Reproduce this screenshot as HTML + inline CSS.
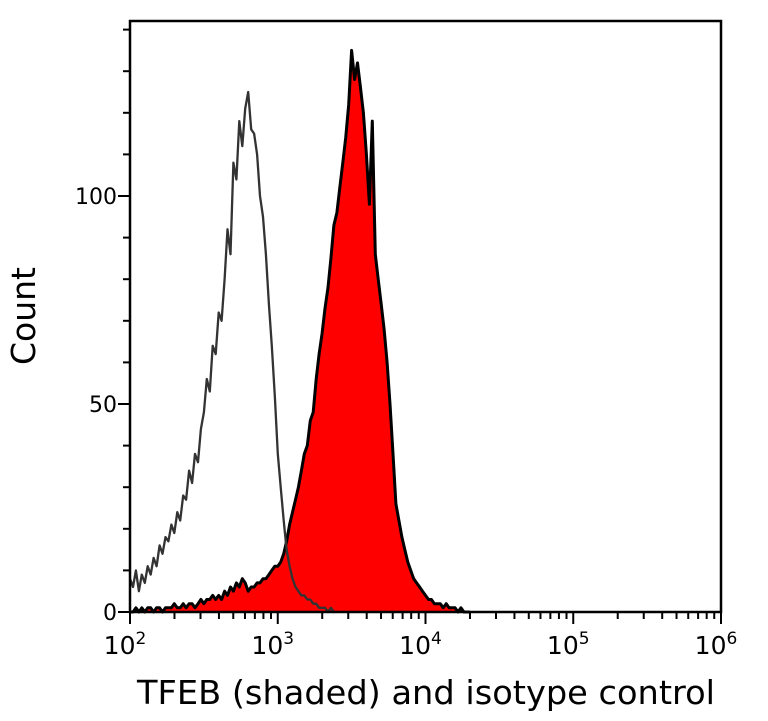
<!DOCTYPE html>
<html><head><meta charset="utf-8"><style>
html,body{margin:0;padding:0;background:#fff;}
svg{display:block;font-family:"DejaVu Sans","Liberation Sans",sans-serif;}
</style></head><body>
<svg id="chart" width="768" height="721" viewBox="0 0 768 721" xmlns="http://www.w3.org/2000/svg">
<g id="marks"></g>
<g id="axes"></g>
<text x="0" y="0" transform="translate(35,316) rotate(-90)" text-anchor="middle" font-size="33" fill="#000">Count</text>
<text x="426" y="704" text-anchor="middle" font-size="33" textLength="578" lengthAdjust="spacingAndGlyphs" fill="#000">TFEB (shaded) and isotype control</text>
</svg>
<script>
const binStart = 2.0;
const binStep = 0.02;
const isotypeCounts = [8,6,10,5,9,7,11,9,13,11,16,14,18,17,21,19,24,22,28,27,34,31,38,36,44,48,56,53,64,62,72,70,80,92,86,108,104,118,112,121,125,116,115,110,100,95,86,74,64,52,38,30,22,15,11,8,6,5,4,4,3,3,2,2,1,1,1,0,1,0,0];
const tfebCounts = [0,0,1,0,1,0,1,1,0,1,1,0,1,1,1,2,1,1,2,1,2,2,1,2,3,2,3,3,4,3,
4,3,5,4,6,5,7,6,8,7,
5,6,6,7,7,8,8,9,10,11,
11,12,14,17,21,24,27,30,34,38,
40,46,48,56,62,67,73,78,85,93,
96,102,108,114,122,135,128,132,126,120,
110,98,118,86,80,74,68,60,50,38,
26,22,18,15,12,10,8,7,6,5,
4,3,3,2,2,2,1,2,1,1,
1,0,1,0,0,0];
const yTicks = [0,50,100];
const yMinorTicks = [10,20,30,40,60,70,80,90,110,120,130,140];
const xDecades = [2,3,4,5,6];

const L=130,R=721,T=21,B=612;
const xs = lg => L + (lg-2)/(6-2)*(R-L);
const ys = c => B - c*4.16;
const NS="http://www.w3.org/2000/svg";
function mk(tag, attrs, parent){const e=document.createElementNS(NS,tag);for(const k in attrs)e.setAttribute(k,attrs[k]);parent.appendChild(e);return e;}
const marks=document.getElementById('marks'), axes=document.getElementById('axes');

function linePts(arr){return arr.map((c,i)=>xs(binStart+i*binStep).toFixed(1)+','+ys(c).toFixed(1));}
let p = linePts(tfebCounts);
const first = xs(binStart), last = xs(binStart+(tfebCounts.length-1)*binStep);
const fill = mk('polygon',{points:first+','+B+' '+p.join(' ')+' '+last+','+B,fill:'#ff0000',stroke:'none'},marks);


const tl = mk('polyline',{points:p.join(' '),fill:'none',stroke:'#000','stroke-width':3,'stroke-linejoin':'round'},marks);


const il = mk('polyline',{points:linePts(isotypeCounts).join(' '),fill:'none',stroke:'#333','stroke-width':2.3,'stroke-linejoin':'round'},marks);



const fr = mk('rect',{x:L,y:T,width:R-L,height:B-T,fill:'none',stroke:'#000','stroke-width':2.5},axes);


yTicks.forEach(v=>{
  const t=mk('line',{x1:L-12,x2:L,y1:ys(v),y2:ys(v),stroke:'#000','stroke-width':2},axes);
  
  
  const lb=mk('text',{x:L-13,y:ys(v)+8,'text-anchor':'end','font-size':22,fill:'#000'},axes);
  lb.textContent=v;
  
  
});
yMinorTicks.forEach(v=>{
  const t=mk('line',{x1:L-7,x2:L,y1:ys(v),y2:ys(v),stroke:'#000','stroke-width':2},axes);
  
  
});
xDecades.forEach((d,i)=>{
  const x=xs(d);
  const t=mk('line',{x1:x,x2:x,y1:B,y2:B+12,stroke:'#000','stroke-width':2},axes);
  
  
  const lb=mk('text',{x:x-5,y:B+42,'text-anchor':'middle','font-size':25,fill:'#000'},axes);
  lb.textContent='10';
  
  
  const sp=mk('tspan',{dy:-10,'font-size':17},lb);
  sp.textContent=String(d);
  if(i<xDecades.length-1){
    for(let m=2;m<=9;m++){
      const mx=xs(d+Math.log10(m));
      const mt=mk('line',{x1:mx,x2:mx,y1:B,y2:B+7,stroke:'#000','stroke-width':2},axes);
      
      
    }
  }
});
</script>
</body></html>
